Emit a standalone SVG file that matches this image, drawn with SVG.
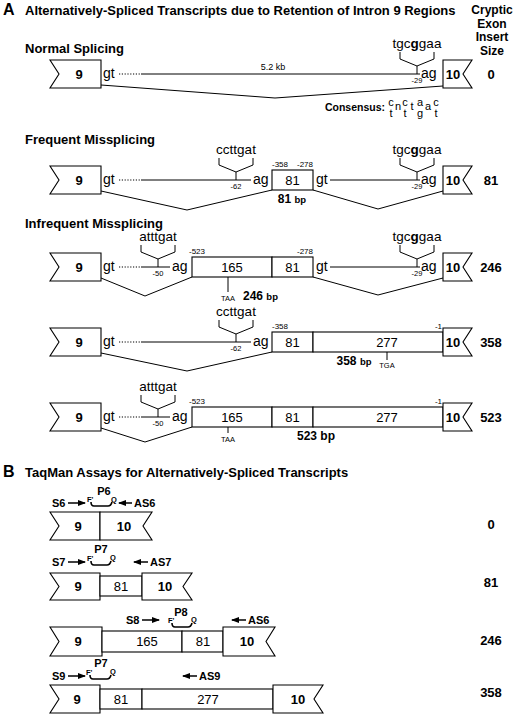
<svg xmlns="http://www.w3.org/2000/svg" width="520" height="714" viewBox="0 0 520 714">
<defs>
<style>
text{font-family:"Liberation Sans",Arial,Helvetica,sans-serif;fill:#000}
.h{font-weight:bold;font-size:13px}
.col{font-weight:bold;font-size:12px;text-anchor:middle}
.big{font-weight:bold;font-size:16px}
.ex{font-weight:bold;font-size:13px;text-anchor:middle}
.bx{font-size:13px;text-anchor:middle}
.sp{font-size:14px}
.seq{font-size:13.5px;text-anchor:middle}
.pos{font-size:7.5px;text-anchor:middle}
.lab{font-size:8px}
.num{font-weight:bold;font-size:13px;text-anchor:middle}
.bp{font-weight:bold;font-size:12px}
.cons{font-size:11px;text-anchor:middle}
.pr{font-weight:bold;font-size:11px}
.fq{font-weight:bold;font-size:7.5px}
.ln{stroke:#000;stroke-width:1;fill:none}
.dot{stroke:#000;stroke-width:1.2;fill:none;stroke-dasharray:1.2 1.6}
.box{fill:#fff;stroke:#000;stroke-width:1.1}
.arr{stroke:#000;stroke-width:1.5;fill:none}
.probe{stroke:#000;stroke-width:1.6;fill:none}
</style>
<marker id="ah" viewBox="0 0 8 6" refX="7" refY="3" markerWidth="8" markerHeight="6" markerUnits="userSpaceOnUse" orient="auto">
<path d="M0,0 L8,3 L0,6 Z" fill="#000"/>
</marker>
</defs>

<!-- Section A headings -->
<g id="headA">
<text x="3" y="15" class="big">A</text>
<text x="25" y="15" class="h">Alternatively-Spliced Transcripts due to Retention of Intron 9 Regions</text>
<text x="492" y="14" class="col">Cryptic</text>
<text x="492" y="27.5" class="col">Exon</text>
<text x="492" y="41" class="col">Insert</text>
<text x="492" y="54.5" class="col">Size</text>
<text x="25" y="53" class="h">Normal Splicing</text>
<text x="25" y="144" class="h">Frequent Missplicing</text>
<text x="25" y="228" class="h">Infrequent Missplicing</text>
</g>

<g id="connectors">
<!-- row1 -->
<line class="dot" x1="119" y1="74" x2="141" y2="74"/>
<line class="ln" x1="141" y1="74" x2="420" y2="74"/>
<path class="ln" d="M101 85 L275 98 L443 86"/>
<!-- row2 -->
<line class="dot" x1="119" y1="180" x2="141" y2="180"/>
<line class="ln" x1="141" y1="180" x2="251" y2="180"/>
<line class="ln" x1="330" y1="180" x2="420" y2="180"/>
<path class="ln" d="M101 191 L187 210 L272 190 M313 190 L378 209 L443 191"/>
<!-- row3 -->
<line class="dot" x1="119" y1="267" x2="141" y2="267"/>
<line class="ln" x1="141" y1="267" x2="170" y2="267"/>
<line class="ln" x1="330" y1="267" x2="420" y2="267"/>
<path class="ln" d="M101 278 L145 296 L192 277 M313 277 L378 295 L443 278"/>
<!-- row4 -->
<line class="dot" x1="119" y1="342" x2="141" y2="342"/>
<line class="ln" x1="141" y1="342" x2="251" y2="342"/>
<path class="ln" d="M101 353 L187 371 L272 352"/>
<!-- row5 -->
<line class="dot" x1="119" y1="417" x2="141" y2="417"/>
<line class="ln" x1="141" y1="417" x2="170" y2="417"/>
<path class="ln" d="M101 428 L145 442 L192 427"/>
<!-- B arrows -->
<line class="arr" x1="68" y1="503" x2="85" y2="503" marker-end="url(#ah)"/>
<line class="arr" x1="132" y1="503" x2="119" y2="503" marker-end="url(#ah)"/>
<line class="arr" x1="68" y1="562" x2="85" y2="562" marker-end="url(#ah)"/>
<line class="arr" x1="148" y1="562" x2="134" y2="562" marker-end="url(#ah)"/>
<line class="arr" x1="142" y1="620" x2="159" y2="620" marker-end="url(#ah)"/>
<line class="arr" x1="246" y1="620" x2="232" y2="620" marker-end="url(#ah)"/>
<line class="arr" x1="68" y1="676" x2="85" y2="676" marker-end="url(#ah)"/>
<line class="arr" x1="197" y1="676" x2="183" y2="676" marker-end="url(#ah)"/>
</g>

<!-- Row 1: Normal splicing -->
<g id="r1">
<path class="box" d="M50 60 H101 V88 H50 L59 74 Z"/>
<text x="79" y="79" class="ex">9</text>
<text x="103" y="78" class="sp">gt</text>
<text x="273" y="70" font-size="9" text-anchor="middle">5.2 kb</text>
<path class="ln" d="M400 52 V59 L417 66 L434 59 V52 M417 66 V74"/>
<text x="417" y="48" class="seq">tgc<tspan font-weight="bold">g</tspan>gaa</text>
<text x="417" y="83" class="pos">-29</text>
<text x="421" y="78" class="sp">ag</text>
<path class="box" d="M443 60 H472 L463 74 L472 88 H443 Z"/>
<text x="453" y="79" class="ex">10</text>
<text x="491" y="79" class="num">0</text>
<text x="385" y="111" font-size="10.5" font-weight="bold" text-anchor="end">Consensus:</text>
<text class="cons"><tspan x="391" y="106">c</tspan><tspan x="398" y="110">n</tspan><tspan x="405" y="106">c</tspan><tspan x="412" y="110">t</tspan><tspan x="420" y="106">a</tspan><tspan x="428" y="110">a</tspan><tspan x="436" y="106">c</tspan></text>
<text class="cons"><tspan x="391" y="117">t</tspan><tspan x="405" y="117">t</tspan><tspan x="420" y="117">g</tspan><tspan x="436" y="117">t</tspan></text>
</g>

<!-- Row 2: 81 -->
<g id="r2">
<path class="box" d="M50 166 H101 V194 H50 L59 180 Z"/>
<text x="79" y="185" class="ex">9</text>
<text x="103" y="184" class="sp">gt</text>
<path class="ln" d="M219 158 V165 L236 172 L253 165 V158 M236 172 V180"/>
<text x="236" y="154" class="seq">ccttgat</text>
<text x="236" y="189" class="pos">-62</text>
<text x="253" y="184" class="sp">ag</text>
<rect class="box" x="272" y="170" width="41" height="20"/>
<text x="292.5" y="185" class="bx">81</text>
<text x="272" y="167" class="lab">-358</text>
<text x="313" y="167" class="lab" text-anchor="end">-278</text>
<text x="316" y="184" class="sp">gt</text>
<text x="292" y="203" text-anchor="middle"><tspan class="bp">81 </tspan><tspan font-weight="bold" font-size="9.5">bp</tspan></text>
<path class="ln" d="M400 158 V165 L417 172 L434 165 V158 M417 172 V180"/>
<text x="417" y="154" class="seq">tgc<tspan font-weight="bold">g</tspan>gaa</text>
<text x="417" y="189" class="pos">-29</text>
<text x="421" y="184" class="sp">ag</text>
<path class="box" d="M443 166 H472 L463 180 L472 194 H443 Z"/>
<text x="453" y="185" class="ex">10</text>
<text x="491" y="185" class="num">81</text>
</g>

<!-- Row 3: 246 -->
<g id="r3">
<path class="box" d="M50 253 H101 V281 H50 L59 267 Z"/>
<text x="79" y="272" class="ex">9</text>
<text x="103" y="271" class="sp">gt</text>
<path class="ln" d="M141 245 V252 L158 259 L175 252 V245 M158 259 V267"/>
<text x="158" y="241" class="seq">atttgat</text>
<text x="158" y="276" class="pos">-50</text>
<text x="172" y="271" class="sp">ag</text>
<rect class="box" x="192" y="257" width="80" height="20"/>
<rect class="box" x="272" y="257" width="41" height="20"/>
<text x="232" y="272" class="bx">165</text>
<text x="292.5" y="272" class="bx">81</text>
<text x="189" y="254" class="lab">-523</text>
<text x="313" y="254" class="lab" text-anchor="end">-278</text>
<line class="ln" x1="228" y1="277" x2="228" y2="292"/>
<text x="228" y="301" class="pos">TAA</text>
<text x="243" y="300"><tspan class="bp">246 </tspan><tspan font-weight="bold" font-size="9.5">bp</tspan></text>
<text x="316" y="271" class="sp">gt</text>
<path class="ln" d="M400 245 V252 L417 259 L434 252 V245 M417 259 V267"/>
<text x="417" y="241" class="seq">tgc<tspan font-weight="bold">g</tspan>gaa</text>
<text x="417" y="276" class="pos">-29</text>
<text x="421" y="271" class="sp">ag</text>
<path class="box" d="M443 253 H472 L463 267 L472 281 H443 Z"/>
<text x="453" y="272" class="ex">10</text>
<text x="491" y="272" class="num">246</text>
</g>

<!-- Row 4: 358 -->
<g id="r4">
<path class="box" d="M50 328 H101 V356 H50 L59 342 Z"/>
<text x="79" y="347" class="ex">9</text>
<text x="103" y="346" class="sp">gt</text>
<path class="ln" d="M219 320 V327 L236 334 L253 327 V320 M236 334 V342"/>
<text x="236" y="316" class="seq">ccttgat</text>
<text x="236" y="351" class="pos">-62</text>
<text x="253" y="346" class="sp">ag</text>
<rect class="box" x="272" y="332" width="41" height="20"/>
<rect class="box" x="313" y="332" width="130" height="20"/>
<text x="292.5" y="347" class="bx">81</text>
<text x="387" y="347" class="bx">277</text>
<text x="272" y="329" class="lab">-358</text>
<text x="442" y="329" class="lab" text-anchor="end">-1</text>
<line class="ln" x1="387" y1="352" x2="387" y2="360"/>
<text x="387" y="368" class="pos">TGA</text>
<text x="354" y="365" text-anchor="middle"><tspan class="bp">358 </tspan><tspan font-weight="bold" font-size="9.5">bp</tspan></text>
<path class="box" d="M443 328 H472 L463 342 L472 356 H443 Z"/>
<text x="453" y="347" class="ex">10</text>
<text x="491" y="347" class="num">358</text>
</g>

<!-- Row 5: 523 -->
<g id="r5">
<path class="box" d="M50 403 H101 V431 H50 L59 417 Z"/>
<text x="79" y="422" class="ex">9</text>
<text x="103" y="421" class="sp">gt</text>
<path class="ln" d="M141 395 V402 L158 409 L175 402 V395 M158 409 V417"/>
<text x="158" y="391" class="seq">atttgat</text>
<text x="158" y="426" class="pos">-50</text>
<text x="172" y="421" class="sp">ag</text>
<rect class="box" x="192" y="407" width="80" height="20"/>
<rect class="box" x="272" y="407" width="41" height="20"/>
<rect class="box" x="313" y="407" width="130" height="20"/>
<text x="232" y="422" class="bx">165</text>
<text x="292.5" y="422" class="bx">81</text>
<text x="387" y="422" class="bx">277</text>
<text x="189" y="404" class="lab">-523</text>
<text x="442" y="404" class="lab" text-anchor="end">-1</text>
<line class="ln" x1="228" y1="427" x2="228" y2="433"/>
<text x="228" y="442" class="pos">TAA</text>
<text x="316" y="440" text-anchor="middle" class="bp" font-size="13">523 bp</text>
<path class="box" d="M443 403 H472 L463 417 L472 431 H443 Z"/>
<text x="453" y="422" class="ex">10</text>
<text x="491" y="422" class="num">523</text>
</g>

<!-- Section B -->
<g id="headB">
<text x="3" y="477" class="big">B</text>
<text x="25" y="477" class="h">TaqMan Assays for Alternatively-Spliced Transcripts</text>
</g>

<g id="b1">
<path class="box" d="M50 512 H100 V540 H50 L59 526 Z"/>
<path class="box" d="M100 512 H152 L143 526 L152 540 H100 Z"/>
<text x="78" y="531" class="ex">9</text>
<text x="124" y="531" class="ex">10</text>
<text x="52" y="507" class="pr">S6</text>
<text x="134" y="507" class="pr">AS6</text>
<text x="104" y="495" class="pr" text-anchor="middle">P6</text>
<text x="87" y="502" class="fq">F'</text>
<text x="111" y="502" class="fq">Q</text>
<path class="probe" d="M91 502 Q91 506 94 506 L108 506 Q111 506 112 502"/>
<text x="491" y="529" class="num">0</text>
</g>

<g id="b2">
<path class="box" d="M50 573 H100 V600 H50 L59 586.5 Z"/>
<rect class="box" x="100" y="576" width="42" height="20"/>
<path class="box" d="M142 573 H192 L183 586.5 L192 600 H142 Z"/>
<text x="78" y="591" class="ex">9</text>
<text x="121" y="591" class="bx">81</text>
<text x="165" y="591" class="ex">10</text>
<text x="52" y="566" class="pr">S7</text>
<text x="150" y="566" class="pr">AS7</text>
<text x="101" y="553" class="pr" text-anchor="middle">P7</text>
<text x="87" y="561" class="fq">F'</text>
<text x="110" y="560" class="fq">Q</text>
<path class="probe" d="M91 561 Q91 565 94 565 L107 565 Q110 565 111 561"/>
<text x="491" y="587" class="num">81</text>
</g>

<g id="b3">
<path class="box" d="M50 627 H102 V656 H50 L59 641.5 Z"/>
<rect class="box" x="102" y="631" width="80" height="21"/>
<rect class="box" x="182" y="631" width="41" height="21"/>
<path class="box" d="M223 627 H275 L266 641.5 L275 656 H223 Z"/>
<text x="78" y="646" class="ex">9</text>
<text x="147" y="646" class="bx">165</text>
<text x="203" y="646" class="bx">81</text>
<text x="247" y="646" class="ex">10</text>
<text x="126" y="624" class="pr">S8</text>
<text x="248" y="624" class="pr">AS6</text>
<text x="181" y="616" class="pr" text-anchor="middle">P8</text>
<text x="168" y="623" class="fq">F'</text>
<text x="191" y="622" class="fq">Q</text>
<path class="probe" d="M172 623 Q172 627 175 627 L188 627 Q191 627 192 623"/>
<text x="491" y="645" class="num">246</text>
</g>

<g id="b4">
<path class="box" d="M50 685 H100 V713 H50 L59 699 Z"/>
<rect class="box" x="100" y="689" width="42" height="20"/>
<rect class="box" x="142" y="689" width="131" height="20"/>
<path class="box" d="M273 685 H323 L314 699 L323 713 H273 Z"/>
<text x="77" y="704" class="ex">9</text>
<text x="121" y="704" class="bx">81</text>
<text x="208" y="704" class="bx">277</text>
<text x="298" y="704" class="ex">10</text>
<text x="52" y="680" class="pr">S9</text>
<text x="199" y="680" class="pr">AS9</text>
<text x="101" y="667" class="pr" text-anchor="middle">P7</text>
<text x="86" y="675" class="fq">F'</text>
<text x="110" y="674" class="fq">Q</text>
<path class="probe" d="M90 675 Q90 679 93 679 L107 679 Q110 679 111 675"/>
<text x="491" y="697" class="num">358</text>
</g>
</svg>
